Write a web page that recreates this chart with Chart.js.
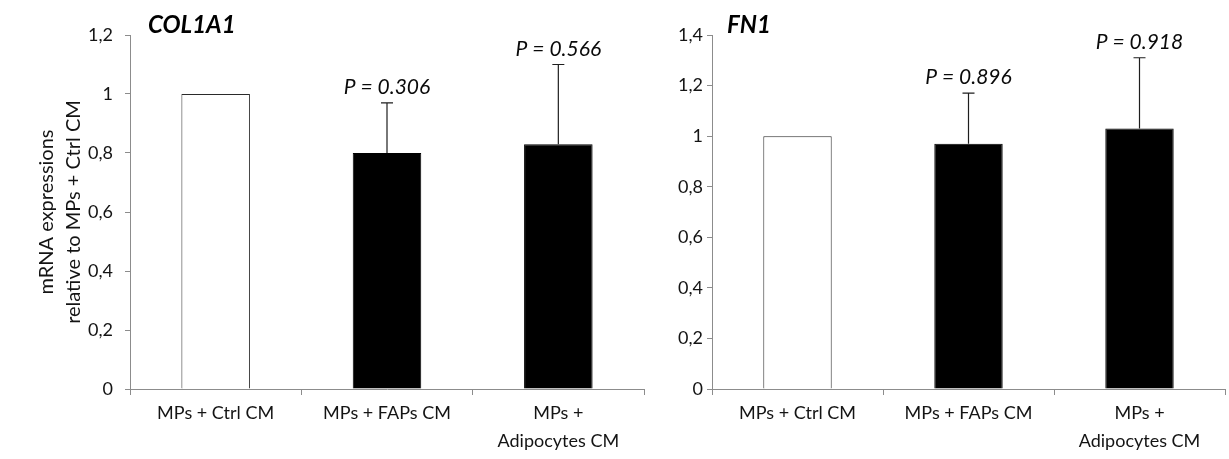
<!DOCTYPE html>
<html>
<head>
<meta charset="utf-8">
<script src="https://cdn.jsdelivr.net/npm/chart.js@4.4.1/dist/chart.umd.min.js"></script>
<style>
  html, body { margin: 0; padding: 0; background: #ffffff; }
  #wrap { position: relative; width: 1229px; height: 459px; overflow: hidden; }
  #c1 { position: absolute; left: 0; top: 0; }
  #c2 { position: absolute; left: 660px; top: 0; }
</style>
</head>
<body>
<div id="wrap">
  <canvas id="c1" width="660" height="459"></canvas>
  <canvas id="c2" width="569" height="459"></canvas>
</div>
<script>
// ---- data ----
const categories = [['MPs + Ctrl CM'], ['MPs + FAPs CM'], ['MPs +', 'Adipocytes CM']];
const barColors = ['#ffffff', '#000000', '#000000'];
const barBorders = ['#2a2a2a', '#000000', '#000000'];

const col1a1Title = 'COL1A1';
const col1a1Values = [1.0, 0.80, 0.83];
const col1a1Errors = [0, 0.17, 0.27];
const col1a1PLabels = ['', 'P = 0.306', 'P = 0.566'];
const col1a1TickValues = [0, 0.2, 0.4, 0.6, 0.8, 1.0, 1.2];
const col1a1TickLabels = ['0', '0,2', '0,4', '0,6', '0,8', '1', '1,2'];

const fn1Title = 'FN1';
const fn1Values = [1.0, 0.97, 1.03];
const fn1Errors = [0, 0.20, 0.28];
const fn1PLabels = ['', 'P = 0.896', 'P = 0.918'];
const fn1TickValues = [0, 0.2, 0.4, 0.6, 0.8, 1.0, 1.2, 1.4];
const fn1TickLabels = ['0', '0,2', '0,4', '0,6', '0,8', '1', '1,2', '1,4'];

const yAxisTitle = ['mRNA expressions', 'relative to MPs + Ctrl CM'];

// ---- plugin: error bars, p-values, panel title ----
const annotPlugin = {
  id: 'annot',
  afterDatasetsDraw(chart, args, opts) {
    const ctx = chart.ctx;
    const meta = chart.getDatasetMeta(0);
    const ys = chart.scales.y;
    ctx.save();
    opts.values.forEach((v, i) => {
      const bar = meta.data[i];
      const e = opts.errors[i];
      const top = ys.getPixelForValue(v + e);
      if (e > 0) {
        const y0 = ys.getPixelForValue(v);
        ctx.strokeStyle = '#1e1e1e';
        ctx.lineWidth = 1.2;
        ctx.beginPath();
        ctx.moveTo(bar.x, y0);
        ctx.lineTo(bar.x, top);
        ctx.moveTo(bar.x - 6, top);
        ctx.lineTo(bar.x + 6, top);
        ctx.stroke();
      }
      if (opts.pLabels[i]) {
        ctx.font = 'italic 21px Lato';
        ctx.fillStyle = '#0a0a0a';
        ctx.textAlign = 'center';
        ctx.textBaseline = 'bottom';
        ctx.fillText(opts.pLabels[i], bar.x, top - 5);
      }
    });
    ctx.font = 'italic bold 24px Lato';
    ctx.fillStyle = '#000000';
    ctx.textAlign = 'left';
    ctx.textBaseline = 'middle';
    ctx.fillText(opts.title, chart.chartArea.left + opts.titleDx, chart.chartArea.top - 10);
    ctx.restore();
  }
};

function makeChart(canvasId, cfg) {
  return new Chart(document.getElementById(canvasId), {
    type: 'bar',
    data: {
      labels: categories,
      datasets: [{
        data: cfg.values,
        backgroundColor: barColors,
        borderColor: barBorders,
        borderWidth: 1,
        barPercentage: 0.4,
        categoryPercentage: 1.0
      }]
    },
    options: {
      responsive: false,
      animation: false,
      events: [],
      layout: { padding: { top: 35, right: cfg.rightPad, left: 0, bottom: 0 } },
      plugins: {
        legend: { display: false },
        tooltip: { enabled: false },
        annot: {
          values: cfg.values,
          errors: cfg.errors,
          pLabels: cfg.pLabels,
          title: cfg.title,
          titleDx: cfg.titleDx
        }
      },
      scales: {
        x: {
          afterFit(scale) { scale.height = 70; },
          grid: { display: true, drawOnChartArea: false, offset: true, tickLength: 6, color: '#8c8c8c' },
          border: { color: '#8c8c8c', width: 1 },
          ticks: {
            autoSkip: false, maxRotation: 0, minRotation: 0, padding: 4,
            color: '#141414',
            font: { family: 'Lato', size: 18, lineHeight: 1.55 }
          }
        },
        y: {
          min: 0,
          max: cfg.tickValues[cfg.tickValues.length - 1],
          afterFit(scale) { scale.width = cfg.yWidth; },
          afterBuildTicks(scale) { scale.ticks = cfg.tickValues.map(v => ({ value: v })); },
          grid: { display: true, drawOnChartArea: false, tickLength: 5, color: '#8c8c8c' },
          border: { color: '#8c8c8c', width: 1 },
          ticks: {
            padding: cfg.tickPad,
            color: '#141414',
            font: { family: 'Lato', size: 18 },
            callback: (val, idx) => cfg.tickLabels[idx]
          },
          title: cfg.yTitle ? {
            display: true,
            text: cfg.yTitle,
            color: '#141414',
            font: { family: 'Lato', size: 20, lineHeight: 1.35 },
            padding: { top: 33, bottom: 0 }
          } : { display: false }
        }
      }
    },
    plugins: [annotPlugin]
  });
}

makeChart('c1', {
  values: col1a1Values, errors: col1a1Errors, pLabels: col1a1PLabels,
  tickValues: col1a1TickValues, tickLabels: col1a1TickLabels,
  title: col1a1Title, titleDx: 18, yWidth: 130, rightPad: 16, tickPad: 12,
  yTitle: yAxisTitle
});
makeChart('c2', {
  values: fn1Values, errors: fn1Errors, pLabels: fn1PLabels,
  tickValues: fn1TickValues, tickLabels: fn1TickLabels,
  title: fn1Title, titleDx: 15, yWidth: 52, rightPad: 4, tickPad: 4,
  yTitle: null
});
</script>
</body>
</html>
